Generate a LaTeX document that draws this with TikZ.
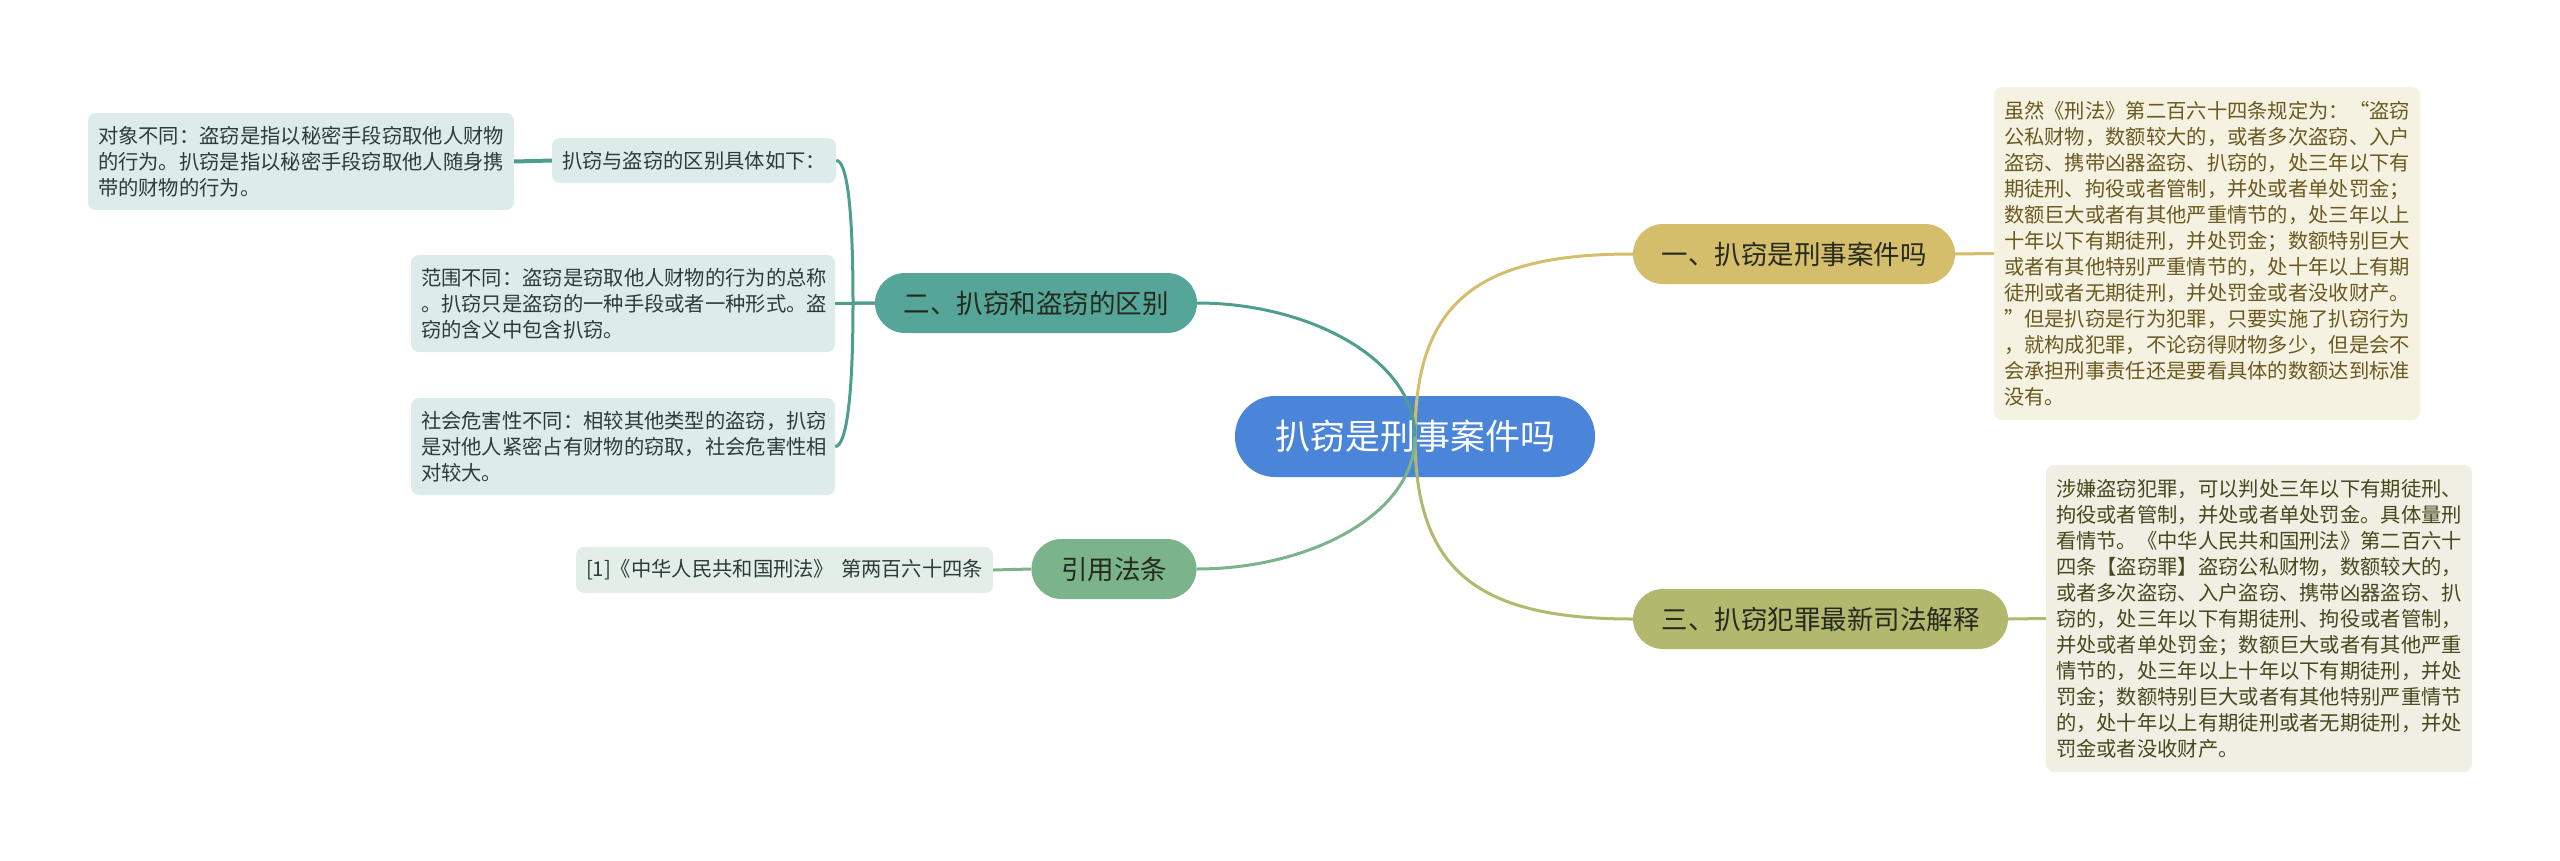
\documentclass[tikz,border=0pt]{standalone}
\usepackage{fontspec}
\setmainfont{Noto Sans CJK SC}
\definecolor{cblue}{HTML}{4A85D9}
\definecolor{cgold}{HTML}{D4BD6B}
\definecolor{colive}{HTML}{B2B86E}
\definecolor{cteal}{HTML}{55A598}
\definecolor{lteal}{HTML}{4E9E8E}
\definecolor{cgreen}{HTML}{7BB38B}
\definecolor{leafL}{HTML}{DDEBEA}
\definecolor{leafG}{HTML}{E3EEE8}
\definecolor{leafY}{HTML}{F6F2E1}
\definecolor{leafO}{HTML}{EFF0E3}
\definecolor{txtL}{HTML}{2F3B3A}
\definecolor{txtY}{HTML}{6A5A22}
\definecolor{txtO}{HTML}{48481F}
\definecolor{txtD}{HTML}{262A1E}
\begin{document}
\begin{tikzpicture}[x=1pt,y=-1pt,
  pill/.style={rounded corners=30pt, minimum height=60pt, inner sep=0pt,
    font=\fontsize{26.5pt}{30pt}\selectfont, text=txtD},
  leaf/.style={rounded corners=8pt, inner xsep=10pt, inner ysep=0pt, align=left,
    text width=406pt, font=\fontsize{20.3pt}{26pt}\selectfont, text=txtL},
  conn/.style={line width=3pt}]
\useasboundingbox (0,0) rectangle (2560,860);
% central topic
\node[fill=cblue, rounded corners=40pt, minimum width=360pt, minimum height=81pt,
  inner sep=0pt, text=white, font=\fontsize{35pt}{40pt}\selectfont] (c) at (1415,436.5) {扒窃是刑事案件吗};
% main branches
\node[pill, fill=cgold, minimum width=322pt] (b1) at (1794,254) {一、扒窃是刑事案件吗};
\node[pill, fill=colive, minimum width=375pt] (b3) at (1820.5,619) {三、扒窃犯罪最新司法解释};
\node[pill, fill=cteal, minimum width=322pt] (b2) at (1036,303) {二、扒窃和盗窃的区别};
\node[pill, fill=cgreen, minimum width=165pt] (b4) at (1114,569) {引用法条};
% right leaves
\node[leaf, fill=leafY, text=txtY, minimum height=333pt] (r1) at (2207,253.5) {虽然《刑法》第二百六十四条规定为：“盗窃\\公私财物，数额较大的，或者多次盗窃、入户\\盗窃、携带凶器盗窃、扒窃的，处三年以下有\\期徒刑、拘役或者管制，并处或者单处罚金；\\数额巨大或者有其他严重情节的，处三年以上\\十年以下有期徒刑，并处罚金；数额特别巨大\\或者有其他特别严重情节的，处十年以上有期\\徒刑或者无期徒刑，并处罚金或者没收财产。\\”但是扒窃是行为犯罪，只要实施了扒窃行为\\，就构成犯罪，不论窃得财物多少，但是会不\\会承担刑事责任还是要看具体的数额达到标准\\没有。};
\node[leaf, fill=leafO, text=txtO, minimum height=307pt] (r3) at (2259,618.5) {涉嫌盗窃犯罪，可以判处三年以下有期徒刑、\\拘役或者管制，并处或者单处罚金。具体量刑\\看情节。《中华人民共和国刑法》第二百六十\\四条【盗窃罪】盗窃公私财物，数额较大的，\\或者多次盗窃、入户盗窃、携带凶器盗窃、扒\\窃的，处三年以下有期徒刑、拘役或者管制，\\并处或者单处罚金；数额巨大或者有其他严重\\情节的，处三年以上十年以下有期徒刑，并处\\罚金；数额特别巨大或者有其他特别严重情节\\的，处十年以上有期徒刑或者无期徒刑，并处\\罚金或者没收财产。};
% left leaves
\node[leaf, fill=leafL, text width=264pt, minimum height=45pt] (l0) at (694,160.5) {扒窃与盗窃的区别具体如下：};
\node[leaf, fill=leafL, minimum height=97pt] (l1) at (301,161.5) {对象不同：盗窃是指以秘密手段窃取他人财物\\的行为。扒窃是指以秘密手段窃取他人随身携\\带的财物的行为。};
\node[leaf, fill=leafL, text width=404pt, minimum height=97pt] (l2) at (623,303.5) {范围不同：盗窃是窃取他人财物的行为的总称\\。扒窃只是盗窃的一种手段或者一种形式。盗\\窃的含义中包含扒窃。};
\node[leaf, fill=leafL, text width=404pt, minimum height=97pt] (l3) at (623,446.5) {社会危害性不同：相较其他类型的盗窃，扒窃\\是对他人紧密占有财物的窃取，社会危害性相\\对较大。};
\node[leaf, fill=leafG, text width=397pt, minimum height=46pt] (l4) at (784.5,570) {\mbox{[1]《中华人民共和国刑法》 第两百六十四条}};
% connectors from central topic
\draw[conn, cgold] (c.center) .. controls (1415,300) and (1480,254) .. (b1.west);
\draw[conn, colive] (c.center) .. controls (1415,573) and (1480,619) .. (b3.west);
\draw[conn, lteal] (c.center) .. controls (1415,360) and (1310,303) .. (b2.east);
\draw[conn, cgreen] (c.center) .. controls (1415,514) and (1310,569) .. (b4.east);
% branch to leaves
\draw[conn, cgold] (b1.east) -- (r1.west);
\draw[conn, colive] (b3.east) -- (r3.west);
\draw[conn, cgreen] (b4.west) -- (l4.east);
\coordinate (j) at (853,303);
\draw[conn, lteal] (b2.west) -- (l2.east);
\draw[conn, lteal] (b2.west) -- (j) .. controls (853,200) and (846,160.5) .. (l0.east);
\draw[conn, lteal] (j) .. controls (853,400) and (846,446.5) .. (l3.east);
\draw[line width=4pt, lteal] (l0.west) -- (l1.east);
\end{tikzpicture}
\end{document}
